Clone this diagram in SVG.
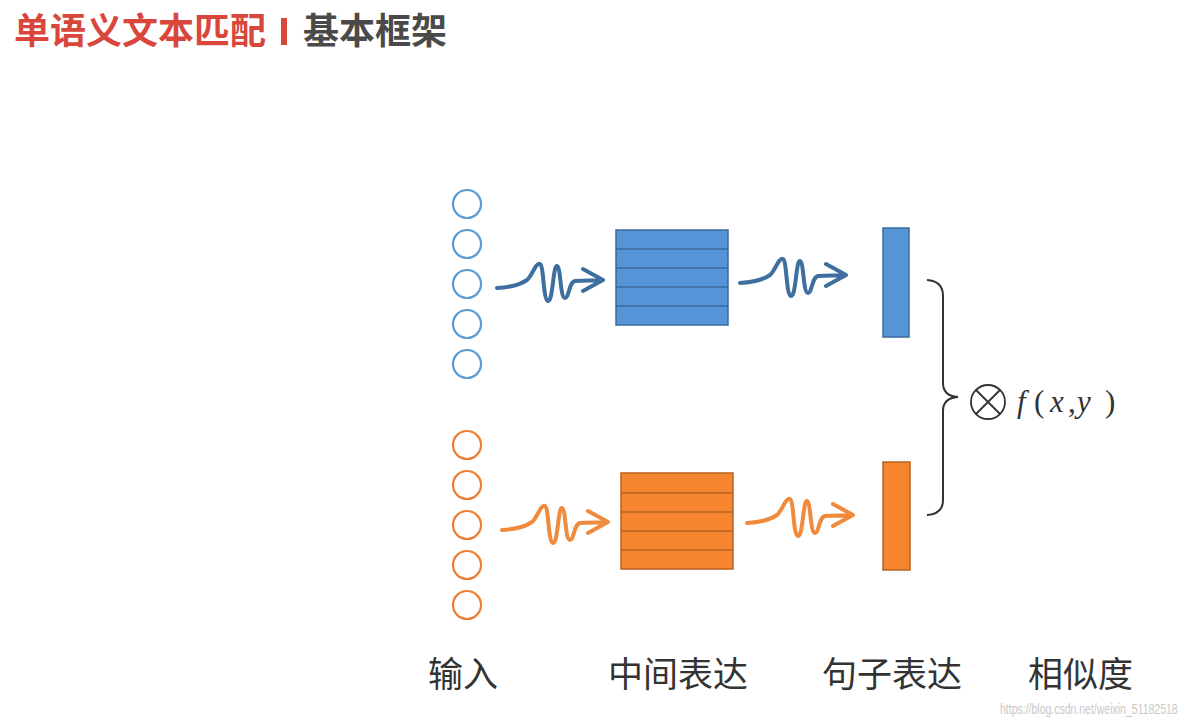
<svg xmlns="http://www.w3.org/2000/svg" width="1190" height="727" viewBox="0 0 1190 727">
<defs>
<style>
.title{font-family:"Noto Sans CJK SC","Noto Sans",sans-serif;font-weight:bold;font-size:36px}
.lbl{font-family:"Noto Sans CJK SC","Noto Sans",sans-serif;font-size:35px;fill:#333}
.cb{fill:none;stroke:#5b9bd5;stroke-width:2.2}
.co{fill:none;stroke:#ed7d31;stroke-width:2.2}
.mb{fill:#5594d6;stroke:#3d6a9c;stroke-width:1.5}
.mo{fill:#f5862f;stroke:#b8611f;stroke-width:1.5}
.wb{fill:none;stroke:#3e6f9f;stroke-width:4;stroke-linecap:round;stroke-linejoin:round}
.wo{fill:none;stroke:#f08a3c;stroke-width:4;stroke-linecap:round;stroke-linejoin:round}
.math{font-family:"Liberation Serif","DejaVu Serif",serif;font-size:31px;fill:#333}
</style>
<g id="wave">
<path d="M0,0 Q20,-1 30,-8 C35,-12 39,-26 43,-24 C47,-22 46,12 51,13 C56,14 56,-23 60,-22 C64,-21 63,10 68,10 C72,10 72,-6 78,-7 L106,-8 M86,-19 L106,-8 L86,3"/>
</g>
</defs>
<rect width="1190" height="727" fill="#ffffff"/>

<g id="title">
<text class="title" x="14" y="44" fill="#d9463b">单语义文本匹配</text>
<rect x="281" y="18" width="6" height="27" fill="#d9463b"/>
<text class="title" x="303" y="44" fill="#4a4a4a">基本框架</text>
</g>

<g id="input-top">
<circle class="cb" cx="467" cy="204" r="14"/>
<circle class="cb" cx="467" cy="244" r="14"/>
<circle class="cb" cx="467" cy="284" r="14"/>
<circle class="cb" cx="467" cy="324" r="14"/>
<circle class="cb" cx="467" cy="364" r="14"/>
</g>
<g id="input-bottom">
<circle class="co" cx="467" cy="445" r="14"/>
<circle class="co" cx="467" cy="485" r="14"/>
<circle class="co" cx="467" cy="525" r="14"/>
<circle class="co" cx="467" cy="565" r="14"/>
<circle class="co" cx="467" cy="605" r="14"/>
</g>

<g id="matrix-top">
<rect class="mb" x="616" y="230" width="112" height="95"/>
<path d="M616,249H728M616,268H728M616,287H728M616,306H728" stroke="#3d6a9c" stroke-width="1.5"/>
</g>
<g id="matrix-bottom">
<rect class="mo" x="621" y="473" width="112" height="96"/>
<path d="M621,493H733M621,512H733M621,531H733M621,550H733" stroke="#b8611f" stroke-width="1.5"/>
</g>

<g id="sentence-top"><rect class="mb" x="883" y="228" width="26" height="109"/></g>
<g id="sentence-bottom"><rect class="mo" x="883" y="462" width="27" height="108"/></g>

<g id="connectors">
<use href="#wave" class="wb" transform="translate(497,288)"/>
<use href="#wave" class="wb" transform="translate(740,283)"/>
<use href="#wave" class="wo" transform="translate(502,530)"/>
<use href="#wave" class="wo" transform="translate(747,523)"/>
<path d="M927,280 Q943,281 943,296 V383 Q943,396 958,397 Q943,398 943,411 V500 Q943,514 927,515" fill="none" stroke="#333" stroke-width="2"/>
</g>

<g id="similarity">
<circle cx="988" cy="402" r="17" fill="none" stroke="#333" stroke-width="1.8"/>
<path d="M976,390L1000,414M1000,390L976,414" stroke="#333" stroke-width="1.8"/>
<text class="math" y="412"><tspan x="1017" font-style="italic">f</tspan><tspan x="1034">(</tspan><tspan x="1050" font-style="italic">x</tspan><tspan x="1068">,</tspan><tspan x="1077" font-style="italic">y</tspan><tspan x="1105">)</tspan></text>
</g>

<g id="labels">
<text class="lbl" x="428" y="687">输入</text>
<text class="lbl" x="608" y="687">中间表达</text>
<text class="lbl" x="822" y="687">句子表达</text>
<text class="lbl" x="1028" y="687">相似度</text>
</g>
<text transform="translate(1000,714) scale(0.75,1)" x="0" y="0" font-family="Liberation Sans,sans-serif" font-size="14" fill="#c8c8c8">https://blog.csdn.net/weixin_51182518</text>
</svg>
